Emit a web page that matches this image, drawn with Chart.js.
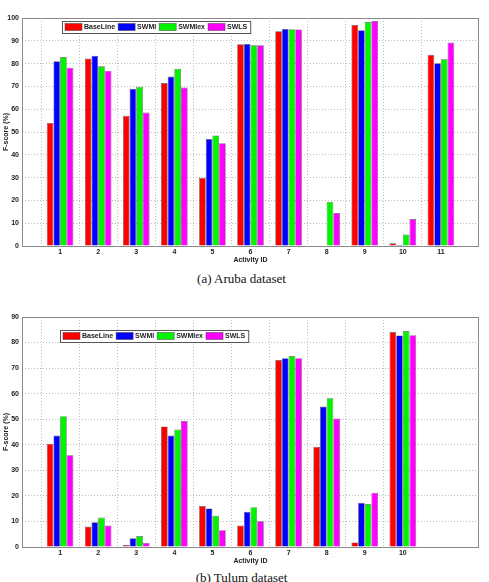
<!DOCTYPE html>
<html>
<head>
<meta charset="utf-8">
<script src="https://cdn.jsdelivr.net/npm/chart.js@4"></script>
<style>
  body { margin: 0; background: #fff; width: 489px; height: 582px; overflow: hidden; position: relative; }
  .box { position: absolute; left: 0; width: 489px; }
  .caption { position: absolute; left: 0; width: 483px; text-align: center;
             font: 13px "Liberation Serif", "Times New Roman", serif; line-height: 15px; color: #111; }
</style>
</head>
<body>
<div class="box" style="top:0;height:265px"><canvas id="aruba"></canvas></div>
<div class="caption" style="top:271px">(a) Aruba dataset</div>
<div class="box" style="top:300px;height:266px"><canvas id="tulum"></canvas></div>
<div class="caption" style="top:570px">(b) Tulum dataset</div>
<script>
const seriesNames = ['BaseLine', 'SWMI', 'SWMIex', 'SWLS'];
const seriesColors = ['#ff0000', '#0000ff', '#00f400', '#ff00ff'];

// Aruba dataset, activities 1..11
const arubaIds = ['1', '2', '3', '4', '5', '6', '7', '8', '9', '10', '11'];
const arubaBaseLine = [54, 82.2, 57.1, 71.5, 29.9, 88.5, 94.2, 0, 96.9, 1.2, 83.9];
const arubaSWMI = [81, 83.4, 68.9, 74.3, 46.9, 88.6, 95.2, 0, 94.6, 0.6, 80.1];
const arubaSWMIex = [82.9, 78.8, 69.8, 77.7, 48.5, 88, 95.1, 19.4, 98.2, 5, 81.9];
const arubaSWLS = [78.2, 76.8, 58.5, 69.5, 45.1, 88, 95, 14.5, 98.7, 11.8, 89.2];

// Tulum dataset, activities 1..10
const tulumIds = ['1', '2', '3', '4', '5', '6', '7', '8', '9', '10'];
const tulumBaseLine = [40.4, 8, 0.8, 47.2, 16, 8.4, 73.2, 39.2, 1.8, 84.1];
const tulumSWMI = [43.6, 9.7, 3.4, 43.6, 15.1, 13.8, 73.9, 55, 17.3, 82.8];
const tulumSWMIex = [51.2, 11.5, 4.3, 46, 12.2, 15.6, 74.7, 58.2, 16.8, 84.5];
const tulumSWLS = [35.9, 8.4, 1.6, 49.3, 6.6, 10.1, 73.9, 50.3, 21.2, 82.9];

const yTicksAruba = [0, 100];
const yTicksTulum = [0, 90];

const tickFont = { family: 'Liberation Sans', size: 7, weight: 'bold' };

// box around the plot + framed legend in the upper left
const framePlugin = {
  id: 'frame',
  afterDraw(chart, args, opts) {
    const ctx = chart.ctx;
    const a = chart.chartArea;
    ctx.save();
    ctx.strokeStyle = '#8a8a8a';
    ctx.lineWidth = 1;
    ctx.strokeRect(Math.round(a.left) + 0.5, Math.round(a.top) + 0.5,
      Math.round(a.right - a.left) - 1, Math.round(a.bottom - a.top));

    ctx.font = 'bold 7px "Liberation Sans"';
    ctx.textBaseline = 'middle';
    let x = opts.x + 3;
    const y = opts.y;
    const items = chart.data.datasets.map(ds => ({ label: ds.label, color: ds.backgroundColor }));
    const parts = [];
    items.forEach(it => {
      const w = ctx.measureText(it.label).width;
      parts.push({ x: x, w: w, it: it });
      x += 19 + w + 3;
    });
    const right = x;
    ctx.fillStyle = '#fff';
    ctx.fillRect(opts.x, y, right - opts.x, 12);
    ctx.strokeStyle = '#555';
    ctx.strokeRect(opts.x + 0.5, y + 0.5, right - opts.x, 12);
    parts.forEach(p => {
      ctx.fillStyle = p.it.color;
      ctx.fillRect(p.x, y + 2.5, 17, 7);
      ctx.strokeStyle = 'rgba(60,60,60,0.8)';
      ctx.lineWidth = 0.6;
      ctx.strokeRect(p.x, y + 2.5, 17, 7);
      ctx.fillStyle = '#222';
      ctx.fillText(p.it.label, p.x + 19, y + 6.5);
    });
    ctx.restore();
  }
};

function makeChart(id, ids, values, yRange, legendPos, topPad) {
  // empty slots at both ends so the axis runs from 0 to 12
  const labels = [''].concat(ids);
  while (labels.length < 13) labels.push('');
  const datasets = seriesNames.map((name, i) => ({
    label: name,
    data: [null].concat(values[i]),
    backgroundColor: seriesColors[i],
    borderColor: 'rgba(50,50,50,0.75)',
    borderWidth: 0.7,
    borderSkipped: 'start',
    categoryPercentage: 0.7,
    barPercentage: 1
  }));

  return new Chart(document.getElementById(id), {
    type: 'bar',
    data: { labels: labels, datasets: datasets },
    plugins: [framePlugin],
    options: {
      responsive: true,
      maintainAspectRatio: false,
      animation: false,
      layout: { padding: { top: topPad, right: 10, left: 0, bottom: 0 } },
      plugins: {
        legend: { display: false },
        tooltip: { enabled: false },
        frame: legendPos
      },
      scales: {
        x: {
          offset: false,
          grid: {
            drawTicks: false,
            color: c => labels[c.index] ? '#bdbdbd' : 'rgba(0,0,0,0)',
            lineWidth: 1
          },
          border: { display: false, dash: [1, 2] },
          ticks: { font: tickFont, color: '#222', padding: 2, maxRotation: 0, autoSkip: false },
          title: { display: true, text: 'Activity ID', font: tickFont, color: '#222', padding: { top: 0, bottom: 1 } },
          afterFit: s => { s.height = 19; }
        },
        y: {
          min: yRange[0],
          max: yRange[1],
          border: { display: false, dash: [1, 2] },
          grid: {
            drawTicks: false,
            color: c => (c.tick.value === yRange[0] || c.tick.value === yRange[1]) ? 'rgba(0,0,0,0)' : '#bdbdbd'
          },
          ticks: { stepSize: 10, font: tickFont, color: '#222', padding: 3 },
          title: { display: true, text: 'F-score (%)', font: tickFont, color: '#222', padding: { top: 2, bottom: 0 } },
          afterFit: s => { s.width = 22; }
        }
      }
    }
  });
}

makeChart('aruba', arubaIds, [arubaBaseLine, arubaSWMI, arubaSWMIex, arubaSWLS], yTicksAruba, { x: 62, y: 21 }, 18);
makeChart('tulum', tulumIds, [tulumBaseLine, tulumSWMI, tulumSWMIex, tulumSWLS], yTicksTulum, { x: 60, y: 30 }, 17);
</script>
</body>
</html>
